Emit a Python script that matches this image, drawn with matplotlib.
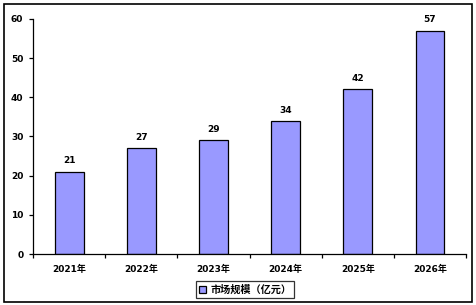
import matplotlib.pyplot as plt
from matplotlib.patches import Rectangle

years = ['2021年', '2022年', '2023年', '2024年', '2025年', '2026年']
values = [21, 27, 29, 34, 42, 57]
series_name = '市场规模（亿元）'

plt.rcParams['font.family'] = ['DejaVu Sans', 'Noto Sans CJK SC']
plt.rcParams['font.weight'] = 'bold'

fig = plt.figure(figsize=(4.77, 3.05), dpi=100)
ax = fig.add_axes([0.0692, 0.167, 0.908, 0.771])

x = list(range(len(years)))
bars = ax.bar(x, values, width=0.4, color='#9999ff', edgecolor='black',
              linewidth=0.9, label=series_name, zorder=2)
for xi, v in zip(x, values):
    ax.text(xi, v + 1.6, str(v), ha='center', va='bottom', fontsize=6.5,
            fontweight='bold')

ax.set_xlim(-0.5, len(years) - 0.5)
ax.set_ylim(0, 60)
ax.set_yticks(range(0, 61, 10))
ax.set_xticks(x)
ax.set_xticklabels(years, fontsize=6.5, fontweight='bold')
ax.tick_params(axis='x', length=0, pad=8)
ax.set_xticks([i + 0.5 for i in range(-1, len(years))], minor=True)
ax.tick_params(axis='x', which='minor', length=3, width=0.9, direction='out')
ax.tick_params(axis='y', length=3, width=0.9, labelsize=6.5, pad=4)
for lab in ax.get_yticklabels():
    lab.set_fontweight('bold')
ax.spines['top'].set_visible(False)
ax.spines['right'].set_visible(False)
ax.spines['left'].set_linewidth(0.9)
ax.spines['bottom'].set_linewidth(0.9)

leg = ax.legend(loc='upper center', bbox_to_anchor=(0.49, -0.095),
                bbox_transform=ax.transAxes, fontsize=7.3, frameon=True,
                fancybox=False, edgecolor='black', handlelength=0.7,
                handleheight=0.7, handletextpad=0.4, borderpad=0.3)
leg.get_frame().set_linewidth(0.9)
for t in leg.get_texts():
    t.set_fontweight('bold')

fig.patches.append(Rectangle((0.008, 0.01), 0.982, 0.977, transform=fig.transFigure,
                             fill=False, edgecolor='black', linewidth=1.2))

fig.savefig('out.png', dpi=100)
